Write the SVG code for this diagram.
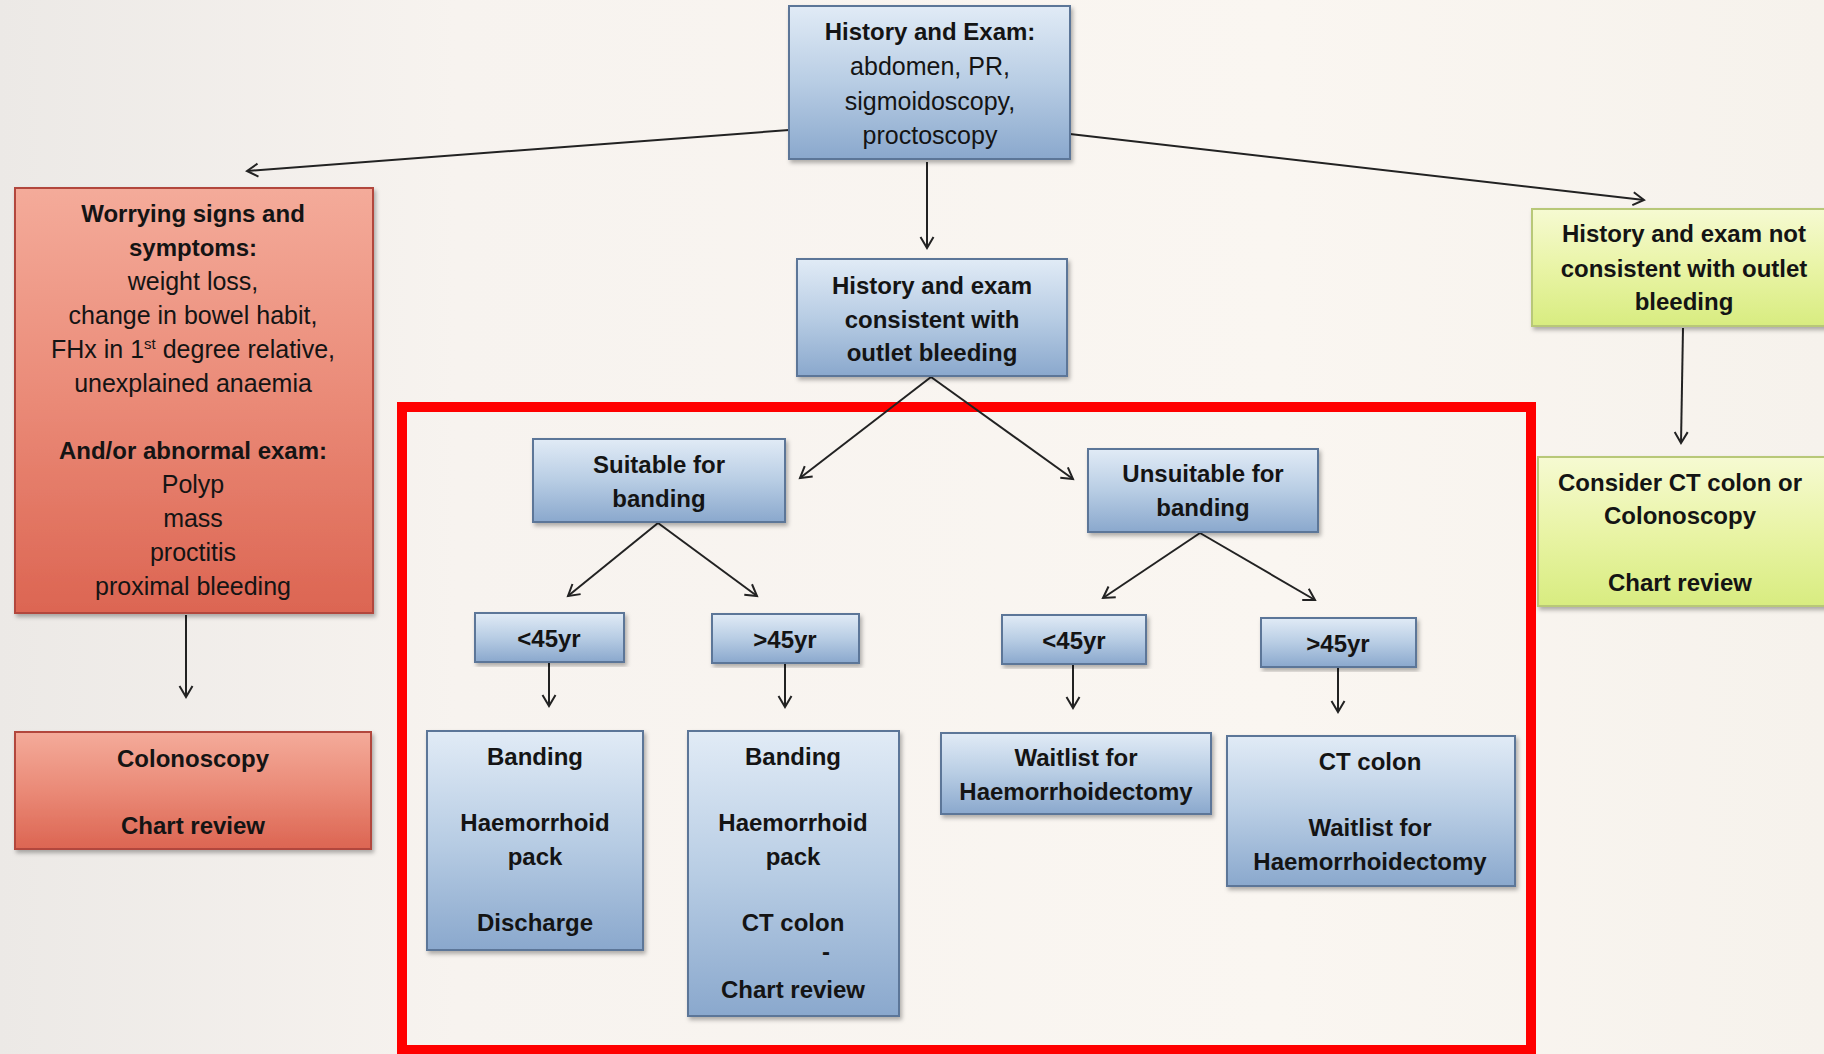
<svg xmlns="http://www.w3.org/2000/svg" width="1824" height="1054" viewBox="0 0 1824 1054">
<defs>
  <linearGradient id="bg" x1="0" y1="0" x2="1" y2="0">
    <stop offset="0" stop-color="#ece9e6"/>
    <stop offset="0.25" stop-color="#f7f3ef"/>
    <stop offset="0.7" stop-color="#faf6f1"/>
    <stop offset="1" stop-color="#f6f2ec"/>
  </linearGradient>
  <linearGradient id="gBlue" x1="0" y1="0" x2="0" y2="1">
    <stop offset="0" stop-color="#e1ebf6"/>
    <stop offset="0.5" stop-color="#b8cde4"/>
    <stop offset="1" stop-color="#8aa8cd"/>
  </linearGradient>
  <linearGradient id="gRed" x1="0" y1="0" x2="0" y2="1">
    <stop offset="0" stop-color="#f4ab9a"/>
    <stop offset="0.5" stop-color="#ea8a77"/>
    <stop offset="1" stop-color="#dc6552"/>
  </linearGradient>
  <linearGradient id="gYel" x1="0" y1="0" x2="0" y2="1">
    <stop offset="0" stop-color="#f6fad2"/>
    <stop offset="0.5" stop-color="#e9f4a6"/>
    <stop offset="1" stop-color="#d8ec80"/>
  </linearGradient>
  <filter id="sh" x="-5%" y="-5%" width="112%" height="115%">
    <feDropShadow dx="2" dy="3" stdDeviation="2" flood-color="#000" flood-opacity="0.3"/>
  </filter>
  <marker id="arr" markerWidth="18" markerHeight="18" refX="14" refY="9" orient="auto" markerUnits="userSpaceOnUse">
    <polyline points="3,2.5 14,9 3,15.5" fill="none" stroke="#222" stroke-width="2"/>
  </marker>
  <style>
    .blue{fill:url(#gBlue);stroke:#5b7698;stroke-width:2;filter:url(#sh)}
    .red{fill:url(#gRed);stroke:#b2473c;stroke-width:2;filter:url(#sh)}
    .yel{fill:url(#gYel);stroke:#b8c878;stroke-width:2;filter:url(#sh)}
    text{font-family:"Liberation Sans",Arial,sans-serif;fill:#141414;text-anchor:middle}
    .b{font-weight:bold;font-size:24px}
    .r{font-weight:normal;font-size:25px}
    .cn line{stroke:#222;stroke-width:2;marker-end:url(#arr)}
  </style>
</defs>
<rect width="1824" height="1054" fill="url(#bg)"/>

<g id="frame">
  <rect x="402" y="407" width="1129" height="643" fill="none" stroke="#ff0000" stroke-width="10"/>
</g>

<g class="cn" id="connectors">
  <line x1="789" y1="130" x2="247" y2="171"/>
  <line x1="1070" y1="134" x2="1644" y2="200"/>
  <line x1="927" y1="162" x2="927" y2="248"/>
  <line x1="186" y1="615" x2="186" y2="697"/>
  <line x1="1683" y1="328" x2="1681" y2="443"/>
  <line x1="931" y1="377" x2="800" y2="478"/>
  <line x1="931" y1="377" x2="1073" y2="479"/>
  <line x1="658" y1="523" x2="568" y2="596"/>
  <line x1="658" y1="523" x2="757" y2="596"/>
  <line x1="1200" y1="533" x2="1103" y2="598"/>
  <line x1="1200" y1="533" x2="1315" y2="600"/>
  <line x1="549" y1="663" x2="549" y2="706"/>
  <line x1="785" y1="664" x2="785" y2="707"/>
  <line x1="1073" y1="665" x2="1073" y2="708"/>
  <line x1="1338" y1="668" x2="1338" y2="712"/>
</g>

<g id="n-history">
  <rect class="blue" x="789" y="6" width="281" height="153"/>
  <text class="b" x="930" y="40">History and Exam:</text>
  <text class="r" x="930" y="75">abdomen, PR,</text>
  <text class="r" x="930" y="110">sigmoidoscopy,</text>
  <text class="r" x="930" y="144">proctoscopy</text>
</g>

<g id="n-worrying">
  <rect class="red" x="15" y="188" width="358" height="425"/>
  <text class="b" x="193" y="222">Worrying signs and</text>
  <text class="b" x="193" y="256">symptoms:</text>
  <text class="r" x="193" y="290">weight loss,</text>
  <text class="r" x="193" y="324">change in bowel habit,</text>
  <text class="r" x="193" y="358">FHx in 1<tspan font-size="15" dy="-9">st</tspan><tspan dy="9"> degree relative,</tspan></text>
  <text class="r" x="193" y="392">unexplained anaemia</text>
  <text class="b" x="193" y="459">And/or abnormal exam:</text>
  <text class="r" x="193" y="493">Polyp</text>
  <text class="r" x="193" y="527">mass</text>
  <text class="r" x="193" y="561">proctitis</text>
  <text class="r" x="193" y="595">proximal bleeding</text>
</g>

<g id="n-colonoscopy">
  <rect class="red" x="15" y="732" width="356" height="117"/>
  <text class="b" x="193" y="767">Colonoscopy</text>
  <text class="b" x="193" y="834">Chart review</text>
</g>

<g id="n-consistent">
  <rect class="blue" x="797" y="259" width="270" height="117"/>
  <text class="b" x="932" y="294">History and exam</text>
  <text class="b" x="932" y="328">consistent with</text>
  <text class="b" x="932" y="361">outlet bleeding</text>
</g>

<g id="n-notconsistent">
  <rect class="yel" x="1532" y="209" width="300" height="117"/>
  <text class="b" x="1684" y="242">History and exam not</text>
  <text class="b" x="1684" y="277">consistent with outlet</text>
  <text class="b" x="1684" y="310">bleeding</text>
</g>

<g id="n-considerct">
  <rect class="yel" x="1538" y="457" width="295" height="149"/>
  <text class="b" x="1680" y="491">Consider CT colon or</text>
  <text class="b" x="1680" y="524">Colonoscopy</text>
  <text class="b" x="1680" y="591">Chart review</text>
</g>

<g id="n-suitable">
  <rect class="blue" x="533" y="439" width="252" height="83"/>
  <text class="b" x="659" y="473">Suitable for</text>
  <text class="b" x="659" y="507">banding</text>
</g>

<g id="n-unsuitable">
  <rect class="blue" x="1088" y="449" width="230" height="83"/>
  <text class="b" x="1203" y="482">Unsuitable for</text>
  <text class="b" x="1203" y="516">banding</text>
</g>

<g id="n-s-lt45">
  <rect class="blue" x="475" y="613" width="149" height="49"/>
  <text class="b" x="549" y="647">&lt;45yr</text>
</g>
<g id="n-s-gt45">
  <rect class="blue" x="712" y="614" width="147" height="49"/>
  <text class="b" x="785" y="648">&gt;45yr</text>
</g>
<g id="n-u-lt45">
  <rect class="blue" x="1002" y="615" width="144" height="49"/>
  <text class="b" x="1074" y="649">&lt;45yr</text>
</g>
<g id="n-u-gt45">
  <rect class="blue" x="1261" y="618" width="155" height="49"/>
  <text class="b" x="1338" y="652">&gt;45yr</text>
</g>

<g id="n-band-discharge">
  <rect class="blue" x="427" y="731" width="216" height="219"/>
  <text class="b" x="535" y="765">Banding</text>
  <text class="b" x="535" y="831">Haemorrhoid</text>
  <text class="b" x="535" y="865">pack</text>
  <text class="b" x="535" y="931">Discharge</text>
</g>

<g id="n-band-ct">
  <rect class="blue" x="688" y="731" width="211" height="285"/>
  <text class="b" x="793" y="765">Banding</text>
  <text class="b" x="793" y="831">Haemorrhoid</text>
  <text class="b" x="793" y="865">pack</text>
  <text class="b" x="793" y="931">CT colon</text>
  <text class="b" x="826" y="960" font-size="14">-</text>
  <text class="b" x="793" y="998">Chart review</text>
</g>

<g id="n-waitlist">
  <rect class="blue" x="941" y="733" width="270" height="81"/>
  <text class="b" x="1076" y="766">Waitlist for</text>
  <text class="b" x="1076" y="800">Haemorrhoidectomy</text>
</g>

<g id="n-ct-waitlist">
  <rect class="blue" x="1227" y="736" width="288" height="150"/>
  <text class="b" x="1370" y="770">CT colon</text>
  <text class="b" x="1370" y="836">Waitlist for</text>
  <text class="b" x="1370" y="870">Haemorrhoidectomy</text>
</g>
</svg>
